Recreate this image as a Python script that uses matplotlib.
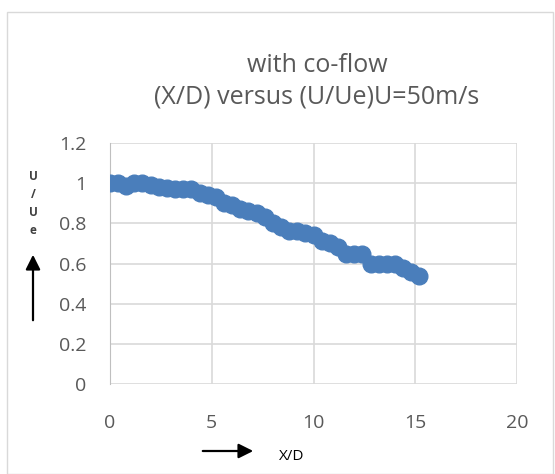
import matplotlib.pyplot as plt
from matplotlib.patches import Rectangle

x_d = [0, 0.4, 0.8, 1.2, 1.6, 2.0, 2.4, 2.8, 3.2, 3.6, 4.0, 4.4, 4.8, 5.2,
       5.6, 6.0, 6.4, 6.8, 7.2, 7.6, 8.0, 8.4, 8.8, 9.2, 9.6, 10.0, 10.4,
       10.8, 11.2, 11.6, 12.0, 12.4, 12.8, 13.2, 13.6, 14.0, 14.4, 14.8, 15.2]
u_ue = [1.0, 1.0, 0.985, 1.0, 1.0, 0.99, 0.98, 0.975, 0.97, 0.97, 0.97, 0.95,
        0.94, 0.93, 0.90, 0.89, 0.87, 0.86, 0.85, 0.83, 0.80, 0.78, 0.76,
        0.76, 0.75, 0.74, 0.71, 0.70, 0.68, 0.65, 0.65, 0.65, 0.60, 0.60,
        0.60, 0.60, 0.58, 0.56, 0.54]
x_ticks = [0, 5, 10, 15, 20]
y_ticks = [0, 0.2, 0.4, 0.6, 0.8, 1, 1.2]
y_labels = ["0", "0.2", "0.4", "0.6", "0.8", "1", "1.2"]

plt.rcParams['font.family'] = ['Open Sans', 'DejaVu Sans']
txt = "#595959"

fig = plt.figure(figsize=(5.55, 4.74), dpi=100)
fig.patches.append(Rectangle((7 / 555, 0), 546 / 555, 462 / 474,
                             transform=fig.transFigure, fill=False,
                             edgecolor="#d9d9d9", linewidth=1))

ax = fig.add_axes([0.198, 0.190, 0.734, 0.508])
ax.plot(x_d, u_ue, color="#4a7ebb", linewidth=6, marker="o",
        markersize=12, zorder=3)
ax.set_xlim(0, 20)
ax.set_ylim(0, 1.2)
ax.set_xticks(x_ticks)
ax.set_yticks(y_ticks)
ax.set_yticklabels(y_labels)
ax.grid(True, color="#d9d9d9", linewidth=1.2)
ax.set_axisbelow(True)
for s in ["top", "right", "bottom"]:
    ax.spines[s].set_visible(False)
ax.spines["left"].set_color("#bfbfbf")
ax.tick_params(length=0, labelsize=14, colors=txt)
ax.tick_params(axis="y", pad=17)
ax.tick_params(axis="x", pad=22)

fig.text(0.571, 0.862, "with co-flow", ha="center", va="center",
         fontsize=18, color=txt)
fig.text(0.571, 0.795, "(X/D) versus (U/Ue)U=50m/s", ha="center",
         va="center", fontsize=18, color=txt)

# stacked y label and arrow
for ch, yy in zip(["U", "/", "U", "e"], [177, 195, 213, 230]):
    fig.text(33 / 555, 1 - yy / 474, ch, ha="center",
             va="center", fontsize=8.5, fontweight="bold", color="#404040")
fig.add_artist(plt.Annotation("", xy=(33 / 555, 1 - 252 / 474),
                              xytext=(33 / 555, 1 - 323 / 474),
                              xycoords="figure fraction",
                              arrowprops=dict(arrowstyle="-|>", color="black",
                                              lw=1.6, mutation_scale=22)))
fig.add_artist(plt.Annotation("", xy=(256 / 555, 1 - 451 / 474),
                              xytext=(200 / 555, 1 - 451 / 474),
                              xycoords="figure fraction",
                              arrowprops=dict(arrowstyle="-|>", color="black",
                                              lw=1.6, mutation_scale=22)))
fig.text(292 / 555, 1 - 456 / 474, "X/D", ha="center", va="center",
         fontsize=11, color="black")

fig.savefig("out.png", dpi=100)
